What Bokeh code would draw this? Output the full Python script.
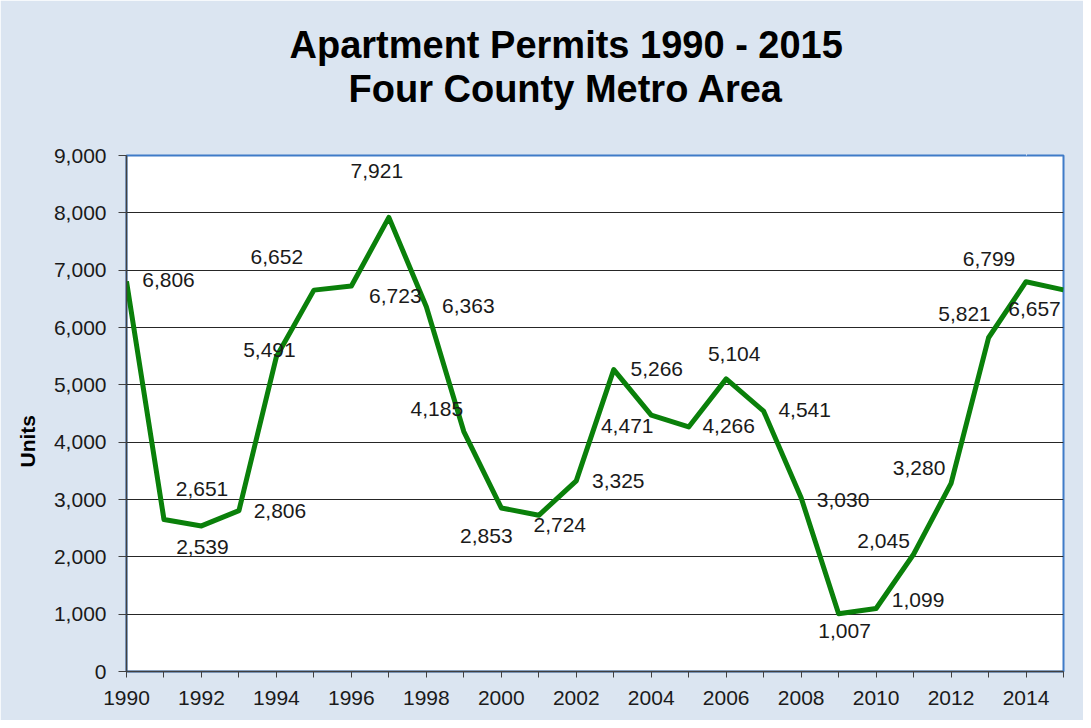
from bokeh.plotting import figure
from bokeh.models import (ColumnDataSource, LabelSet, FixedTicker, LinearAxis,
                          NumeralTickFormatter, Range1d, Title)
from bokeh.core.properties import value
from bokeh.embed import file_html
from bokeh.resources import INLINE

# ---- data ----
years = list(range(1990, 2016))
permits = [6806, 2651, 2539, 2806, 5491, 6652, 6723, 7921, 6363, 4185,
           2853, 2724, 3325, 5266, 4471, 4266, 5104, 4541, 3030, 1007,
           1099, 2045, 3280, 5821, 6799, 6657]
labels = [f"{v:,}" for v in permits]
x_tick_labels = list(range(1990, 2016, 2))
y_ticks = list(range(0, 10000, 1000))

title_line1 = "Apartment Permits  1990 - 2015"
title_line2 = "Four County Metro Area"
y_label = "Units"

# ---- label placement (pixels, right / down) ----
label_dx = [42, 38, 1, 41, -7, -37, 44, -12, 42, -27,
            -15, 21, 42, 43, -24, 40, 8, 41, 42, 6,
            42, -30, -32, -24, -37, -29]
label_dy = [-1, -31, 21, 0, -7, -33, 10, -46, -1, -23,
            28, 10, 0, -1, 11, -1, -25, -1, 2, 17,
            -8, -13, -15, -24, -23, 19]

BG = "#dbe5f1"
FONT = "Liberation Sans"
TXT = "#1a1a1a"

p = figure(width=1083, height=720, output_backend="svg", toolbar_location=None,
           x_range=Range1d(1990, 2015), y_range=Range1d(0, 9000),
           min_border_left=126, min_border_right=20, min_border_top=155,
           min_border_bottom=49)
p.background_fill_color = "white"
p.border_fill_color = BG
p.outline_line_color = "#3f7bc8"
p.outline_line_width = 2

src = ColumnDataSource(dict(x=years, y=permits, text=labels,
                            dx=label_dx, dy=[-d for d in label_dy]))

p.line("x", "y", source=src, line_color="#0a800a", line_width=5,
       line_join="round")

ls = LabelSet(x="x", y="y", text="text", source=src, x_offset="dx",
              y_offset="dy", text_align="center", text_baseline="middle",
              text_font=value(FONT), text_font_size=value("21px"),
              text_color=TXT)
p.add_layout(ls)

# axes
xa = p.xaxis[0]
xa.ticker = FixedTicker(ticks=x_tick_labels,
                        minor_ticks=[y for y in years if y % 2 == 1])
xa.major_tick_in = 0
xa.major_tick_out = 6
xa.minor_tick_in = 0
xa.minor_tick_out = 6
xa.major_tick_line_color = "#404040"
xa.minor_tick_line_color = "#404040"
xa.axis_line_color = "#404040"
xa.axis_line_width = 1.5
xa.major_label_text_font = FONT
xa.major_label_text_font_size = "21px"
xa.major_label_text_color = TXT
xa.major_label_standoff = 13

ya = p.yaxis[0]
ya.ticker = FixedTicker(ticks=y_ticks)
ya.formatter = NumeralTickFormatter(format="0,0")
ya.major_tick_in = 0
ya.major_tick_out = 8
ya.minor_tick_line_color = None
ya.major_tick_line_color = "#404040"
ya.axis_line_color = "#404040"
ya.axis_line_width = 1.5
ya.major_label_text_font = FONT
ya.major_label_text_font_size = "21px"
ya.major_label_text_color = TXT
ya.major_label_standoff = 12

p.xgrid.grid_line_color = None
p.ygrid.grid_line_color = "#262626"
p.ygrid.grid_line_width = 1
p.ygrid.ticker = FixedTicker(ticks=y_ticks)

# invisible spacer between plot area and titles (one hidden tick)
spacer = LinearAxis(ticker=FixedTicker(ticks=[x_tick_labels[-1]], minor_ticks=[]),
                    axis_line_color=None,
                    major_tick_line_color=BG, minor_tick_line_color=None,
                    major_tick_in=0, major_tick_out=46, minor_tick_in=0,
                    minor_tick_out=0, major_label_standoff=0,
                    major_label_overrides={x_tick_labels[-1]: ""},
                    major_label_text_font_size="1px")
p.add_layout(spacer, "above")

# titles (first added sits nearest the frame)
p.title = None
p.add_layout(Title(text=title_line2, align="left", offset=222,
                   text_font=FONT, text_font_size="38px",
                   text_font_style="bold", text_color="black",
                   standoff=0), "above")
p.add_layout(Title(text=title_line1, align="left", offset=163,
                   text_font=FONT, text_font_size="38px",
                   text_font_style="bold", text_color="black",
                   standoff=0), "above")

# vertical axis title
p.add_layout(Title(text=y_label, align="left", offset=204,
                   text_font=FONT, text_font_size="21px",
                   text_font_style="bold", text_color="black",
                   standoff=24), "left")

open("out.html", "w").write(file_html(p, INLINE))
